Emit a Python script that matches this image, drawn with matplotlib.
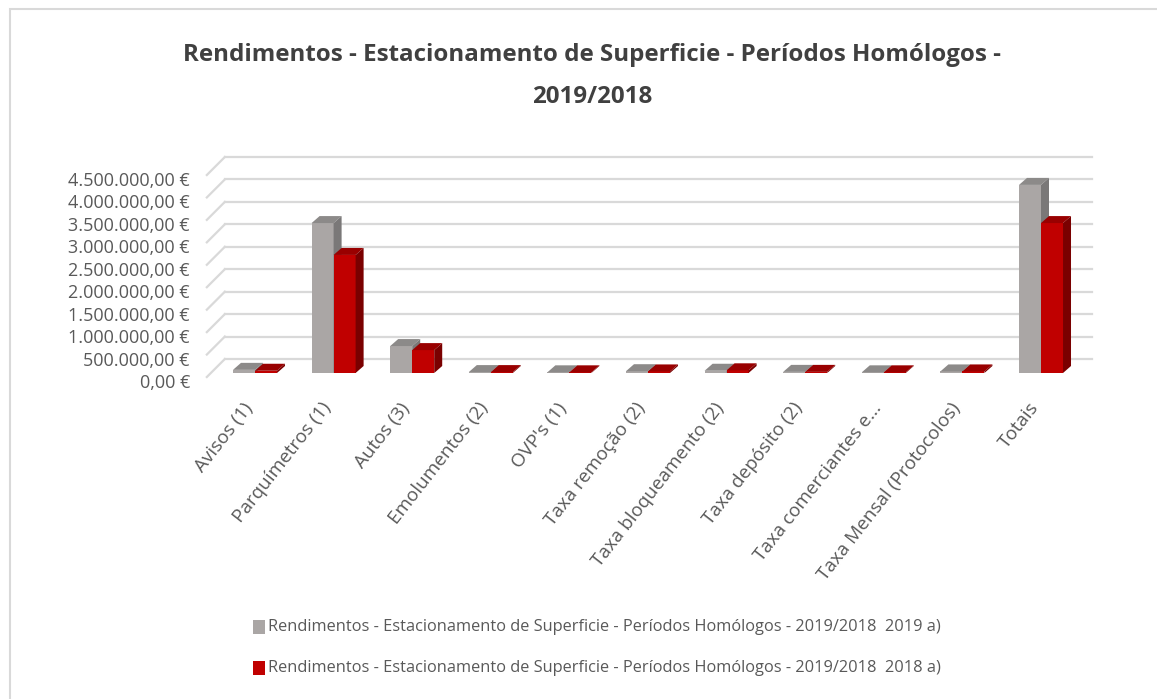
import numpy as np
import matplotlib.pyplot as plt
import matplotlib.transforms as mtransforms
from matplotlib.patches import Polygon, Rectangle

plt.rcParams["font.family"] = ["Open Sans", "DejaVu Sans"]

categories = [
    "Avisos (1)", "Parquímetros (1)", "Autos (3)", "Emolumentos (2)", "OVP's (1)",
    "Taxa remoção (2)", "Taxa bloqueamento (2)", "Taxa depósito (2)",
    "Taxa comerciantes e...", "Taxa Mensal (Protocolos)", "Totais",
]
vals_2019 = [70000, 3340000, 600000, 20000, 15000, 40000, 50000, 25000, 15000, 35000, 4190000]
vals_2018 = [50000, 2630000, 510000, 20000, 15000, 35000, 60000, 25000, 15000, 35000, 3340000]
yticks = np.arange(0, 4500001, 500000)
series_labels = [
    "Rendimentos - Estacionamento de Superficie - Períodos Homólogos - 2019/2018  2019 a)",
    "Rendimentos - Estacionamento de Superficie - Períodos Homólogos - 2019/2018  2018 a)",
]

W, H = 1157, 699
fig = plt.figure(figsize=(W / 100, H / 100), dpi=100)
fig.patches.append(Rectangle((10 / W, -0.1), 1.2, 1 - 9 / H + 0.1, transform=fig.transFigure,
                             fill=False, ec="#d9d9d9", lw=1.5))

# axes placed in pixels: category step 78.6 px, 0 at y=377, 4.5M at y=175
step = 78.6
x_left = 251 - 0.6 * step
ax = fig.add_axes([x_left / W, 1 - 377 / H, 11.1 * step / W, 202 / H])
ax.set_xlim(-0.6, 10.5)
ax.set_ylim(0, 4500000)
for s in ax.spines.values():
    s.set_visible(False)

px_x = 1 / step               # data units per pixel (x)
px_y = 4500000 / 202          # data units per pixel (y)

# back wall gridlines + left wall diagonals
x_wall = -0.6 + 3 * px_x
wdx, wdy = 18 * px_x, 18 * px_y
x_back_right = (1092 - x_left) / step - 0.6
for v in yticks:
    ax.plot([x_wall + wdx, x_back_right], [v + wdy, v + wdy], color="#d9d9d9", lw=1.6,
            clip_on=False, zorder=0)
    ax.plot([x_wall, x_wall + wdx], [v, v + wdy], color="#d9d9d9", lw=1.6, clip_on=False, zorder=0)

# pseudo 3d bars
bw = 0.28
bdx, bdy = 8 * px_x, 7 * px_y
sx, sy = 4 * px_x, 4 * px_y   # bars sit a bit behind the front plane
styles = [("#aaa6a5", "#8c8a89", "#7a7878"), ("#c00000", "#990000", "#7a0000")]
x = np.arange(len(categories))
for k, (vals, (cf, ct, cs)) in enumerate(zip([vals_2019, vals_2018], styles)):
    for i, h in enumerate(vals):
        x0 = x[i] - bw + k * bw + sx
        x1 = x0 + bw
        y0, y1 = sy, h + sy
        ax.add_patch(Polygon([(x0, y0), (x1, y0), (x1, y1), (x0, y1)], closed=True,
                             fc=cf, ec="none", zorder=2 + k, clip_on=False))
        ax.add_patch(Polygon([(x0, y1), (x1, y1), (x1 + bdx, y1 + bdy), (x0 + bdx, y1 + bdy)],
                             closed=True, fc=ct, ec="none", zorder=2 + k, clip_on=False))
        ax.add_patch(Polygon([(x1, y0), (x1 + bdx, y0 + bdy), (x1 + bdx, y1 + bdy), (x1, y1)],
                             closed=True, fc=cs, ec="none", zorder=2 + k, clip_on=False))

ax.set_yticks(yticks)
ax.set_yticklabels([f"{v:,.2f} €".replace(",", "X").replace(".", ",").replace("X", ".")
                    for v in yticks])
ax.set_xticks(x)
ax.set_xticklabels(categories, rotation=52, ha="right", rotation_mode="anchor")
ax.tick_params(axis="y", length=0, pad=10, labelsize=13, labelcolor="#595959")
ax.tick_params(axis="x", length=0, pad=16, labelsize=13.6, labelcolor="#595959")
shift_y = mtransforms.ScaledTranslation(0, -6 / 100, fig.dpi_scale_trans)
for t in ax.get_yticklabels():
    t.set_va("center")
    t.set_transform(t.get_transform() + shift_y)
shift_x = mtransforms.ScaledTranslation(-9 / 100, 0, fig.dpi_scale_trans)
for t in ax.get_xticklabels():
    t.set_transform(t.get_transform() + shift_x)

title_lines = ["Rendimentos - Estacionamento de Superficie - Períodos Homólogos -", "2019/2018"]
for line, yy in zip(title_lines, [55, 97]):
    fig.text(592 / W, 1 - yy / H, line, ha="center", va="center", fontsize=17.4,
             fontweight="bold", color="#404040")

# legend
for j, (lab, col) in enumerate(zip(series_labels, ["#aaa6a5", "#c00000"])):
    yy = 627 + j * 41
    fig.patches.append(Rectangle((253 / W, 1 - (yy + 7) / H), 12 / W, 14 / H,
                                 transform=fig.transFigure, fc=col, ec="none"))
    fig.text(268 / W, 1 - yy / H, lab, ha="left", va="center", fontsize=11.8, color="#595959")

fig.savefig("out.png", dpi=100)
